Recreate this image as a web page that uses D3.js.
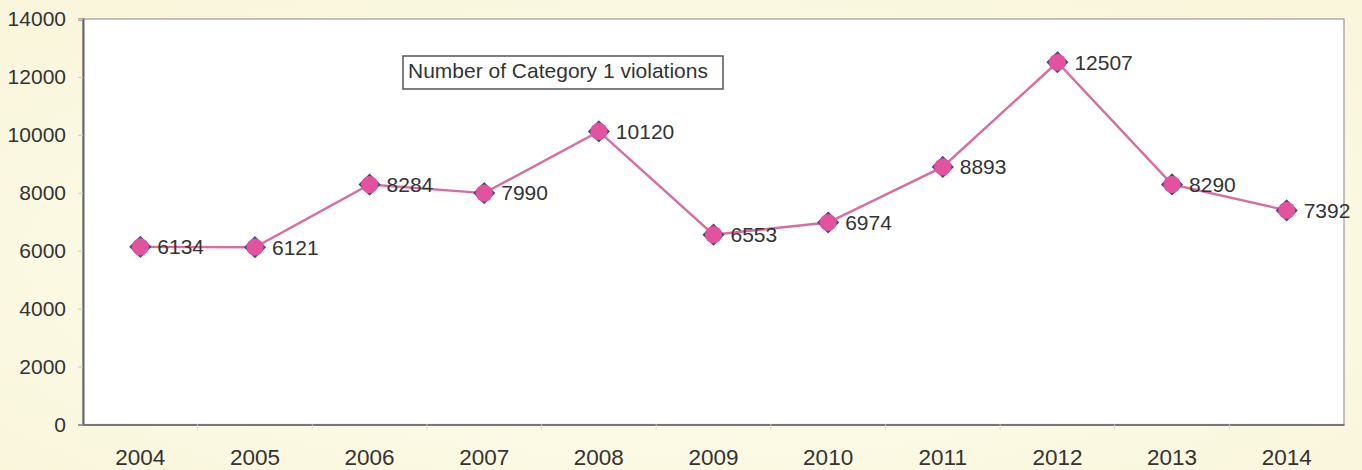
<!DOCTYPE html>
<html>
<head>
<meta charset="utf-8">
<script src="https://cdn.jsdelivr.net/npm/d3@7"></script>
<style>
  html, body { margin: 0; padding: 0; }
  body { width: 1362px; height: 470px; overflow: hidden; }
  svg { display: block; font-family: "Liberation Sans", Arial, sans-serif; }
</style>
</head>
<body>
<svg id="chart" width="1362" height="470"></svg>
<script>
// Yearly counts of Category 1 violations
const years = ["2004", "2005", "2006", "2007", "2008", "2009", "2010", "2011", "2012", "2013", "2014"];
const violations = [6134, 6121, 8284, 7990, 10120, 6553, 6974, 8893, 12507, 8290, 7392];
const yTicks = [0, 2000, 4000, 6000, 8000, 10000, 12000, 14000];
const seriesName = "Number of Category 1 violations";

const W = 1362, H = 470;
const margin = { left: 83, right: 18, top: 19, bottom: 45 };
const FS = 21;
const svg = d3.select("#chart");

// Warm paper-coloured backdrop
const defs = svg.append("defs");
const bg = defs.append("radialGradient").attr("id", "bg")
  .attr("cx", "50%").attr("cy", "55%").attr("r", "75%");
bg.append("stop").attr("offset", "0%").attr("stop-color", "#fffff0");
bg.append("stop").attr("offset", "100%").attr("stop-color", "#f9f5da");
svg.append("rect").attr("width", W).attr("height", H).attr("fill", "url(#bg)");

const x = d3.scaleBand().domain(years)
  .range([margin.left, W - margin.right]);
const y = d3.scaleLinear().domain([0, 14000])
  .range([H - margin.bottom - 0.5, margin.top]);

// Plot area
svg.append("rect")
  .attr("x", margin.left).attr("y", margin.top)
  .attr("width", W - margin.right - margin.left)
  .attr("height", y(0) - margin.top)
  .attr("fill", "#ffffff")
  .attr("stroke", "#9a9a9a").attr("stroke-width", 1.2);

// Y axis
const yAxis = svg.append("g")
  .attr("transform", `translate(${margin.left},0)`)
  .call(d3.axisLeft(y).tickValues(yTicks).tickSize(5).tickPadding(12).tickFormat(d3.format("d")));
yAxis.select(".domain").attr("stroke", "#666").attr("stroke-width", 2);
yAxis.selectAll(".tick line").attr("stroke", "#ccc");
yAxis.selectAll("text").attr("font-size", FS).attr("fill", "#333");

// X axis with ticks at band edges
const xAxis = svg.append("g")
  .attr("transform", `translate(0,${y(0)})`)
  .call(d3.axisBottom(x).tickSize(0).tickPadding(25));
xAxis.select(".domain").attr("stroke", "#777").attr("stroke-width", 2);
xAxis.selectAll("text").attr("font-size", 22.5).attr("fill", "#333");
svg.append("g").selectAll("line")
  .data(years.slice(1))
  .join("line")
  .attr("x1", d => x(d)).attr("x2", d => x(d))
  .attr("y1", y(0)).attr("y2", y(0) + 5)
  .attr("stroke", "#ddd");

const cx = d => x(d) + x.bandwidth() / 2;

// Series line
const line = d3.line().x((d, i) => cx(years[i])).y(d => y(d));
svg.append("path")
  .datum(violations)
  .attr("d", line)
  .attr("fill", "none")
  .attr("stroke", "#d66e9f")
  .attr("stroke-width", 2.4);

// Markers: dark-edged diamond with a pink core that leaves the corners showing
const diamond = d3.symbol().type(d3.symbolDiamond2).size(240);
const markers = svg.append("g").selectAll("g")
  .data(violations)
  .join("g")
  .attr("transform", (d, i) => `translate(${cx(years[i])},${y(d)})`);
markers.append("path")
  .attr("d", diamond)
  .attr("fill", "#e0509c")
  .attr("stroke", "#3f4f7c")
  .attr("stroke-width", 2);
markers.append("circle")
  .attr("r", 8.6)
  .attr("fill", "#e2529e");

// Value labels
svg.append("g").selectAll("text")
  .data(violations)
  .join("text")
  .attr("x", (d, i) => cx(years[i]) + 17)
  .attr("y", d => y(d))
  .attr("dy", "0.35em")
  .attr("font-size", FS)
  .attr("fill", "#333")
  .text(d => d);

// Legend box
const lg = svg.append("g").attr("transform", "translate(403,56)");
lg.append("rect").attr("width", 320).attr("height", 33)
  .attr("fill", "#fff").attr("stroke", "#555").attr("stroke-width", 1.5);
lg.append("text").attr("x", 5).attr("y", 22)
  .attr("font-size", FS).attr("fill", "#333").text(seriesName);
</script>
</body>
</html>
